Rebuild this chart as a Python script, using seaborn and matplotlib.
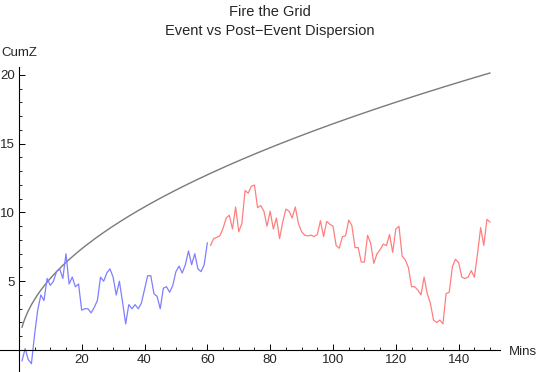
import matplotlib
matplotlib.use("Agg")
import matplotlib.pyplot as plt
import matplotlib.ticker as mticker
import numpy as np
import pandas as pd
import seaborn as sns

# minutes 1..60 (event) and 61..150 (post-event)
event_mins = list(range(1, 61))
event_cumz = [-0.8, 0.1, -0.7, -1.0, 1.1, 2.9, 4.0, 3.6, 5.2, 4.7,
              5.0, 5.7, 5.9, 5.2, 7.0, 4.8, 5.3, 4.6, 4.8, 2.9,
              3.0, 3.0, 2.7, 3.1, 3.6, 5.3, 5.0, 5.6, 5.9, 5.3,
              4.0, 5.0, 3.5, 1.9, 3.3, 3.0, 3.3, 3.0, 3.4, 4.4,
              5.4, 5.4, 4.1, 3.9, 3.0, 4.5, 4.6, 4.2, 4.7, 5.7,
              6.1, 5.6, 6.2, 7.2, 6.2, 7.0, 5.9, 5.7, 6.2, 7.8]

post_mins = list(range(61, 151))
post_cumz = [7.6, 8.1, 8.2, 8.3, 8.85, 9.6, 9.8, 8.8, 10.4, 8.6,
             9.2, 11.6, 11.4, 11.9, 12.0, 10.35, 10.5, 10.1, 9.0, 10.1,
             8.8, 9.6, 8.1, 9.3, 10.25, 10.1, 9.6, 10.4, 9.2, 8.6,
             8.35, 8.3, 8.35, 8.25, 8.4, 9.4, 8.25, 9.35, 9.15, 9.0,
             7.6, 7.4, 8.25, 8.3, 9.45, 9.05, 7.45, 7.45, 6.4, 6.4,
             8.35, 7.75, 6.3, 7.0, 7.3, 7.7, 7.6, 8.4, 7.1, 8.8,
             9.0, 6.84, 6.55, 6.0, 4.6, 4.6, 4.36, 4.0, 5.3, 4.1,
             3.4, 2.18, 2.0, 2.18, 1.9, 4.1, 4.2, 6.06, 6.6, 6.35,
             5.3, 5.2, 5.3, 5.77, 5.3, 7.0, 8.9, 7.6, 9.5, 9.3]

# 95% one-sided bound for cumulative Z: 1.645 * sqrt(n)
z_crit = 1.645
bound_mins = np.linspace(1, 150, 300)
bound_cumz = z_crit * np.sqrt(bound_mins)

event = pd.DataFrame({'Mins': event_mins, 'CumZ': event_cumz})
post = pd.DataFrame({'Mins': post_mins, 'CumZ': post_cumz})
bound = pd.DataFrame({'Mins': bound_mins, 'CumZ': bound_cumz})

sns.set_style('white')
plt.rcParams['font.family'] = ['Liberation Sans', 'DejaVu Sans']

fig = plt.figure(figsize=(5.4, 3.72), dpi=100)
ax = fig.add_axes([0.0, 0.0, 0.925, 0.8206])

sns.lineplot(x='Mins', y='CumZ', data=bound, color='#7a7a7a', linewidth=1.0, ax=ax)
sns.lineplot(x='Mins', y='CumZ', data=event, color='#7f7fff', linewidth=0.9, ax=ax)
sns.lineplot(x='Mins', y='CumZ', data=post, color='#ff7f7f', linewidth=0.9, ax=ax)

ax.set_xlim(-6, 153)
ax.set_ylim(-1.6, 20.6)
ax.set_xlabel('')
ax.set_ylabel('')

for s in ['top', 'right']:
    ax.spines[s].set_visible(False)
ax.spines['left'].set_position(('data', 0))
ax.spines['bottom'].set_position(('data', 0))
for s in ['left', 'bottom']:
    ax.spines[s].set_color('black')
    ax.spines[s].set_linewidth(0.8)

ax.xaxis.set_major_locator(mticker.FixedLocator([20, 40, 60, 80, 100, 120, 140]))
ax.xaxis.set_minor_locator(mticker.FixedLocator([v for v in range(5, 151, 5) if v % 20]))
ax.yaxis.set_major_locator(mticker.FixedLocator([5, 10, 15, 20]))
ax.yaxis.set_minor_locator(mticker.FixedLocator([v for v in range(1, 21) if v % 5]))
ax.tick_params(which='both', bottom=True, left=True, top=False, right=False)
ax.tick_params(which='major', direction='in', length=4, width=0.7, labelsize=9.5, pad=3, color='black')
ax.tick_params(which='minor', direction='in', length=2.2, width=0.6, color='black')
ax.tick_params(axis='y', which='both', pad=3)

fig.text(1 / 540, 1 - 53 / 372, 'CumZ', ha='left', va='center', fontsize=9.5)
fig.text(509 / 540, 1 - 352 / 372, 'Mins', ha='left', va='center', fontsize=9.5)
fig.text(0.5, 1 - 12 / 372, 'Fire the Grid', ha='center', va='center', fontsize=10.5)
fig.text(0.5, 1 - 31 / 372, 'Event vs Post\u2212Event Dispersion', ha='center', va='center', fontsize=10.5)

fig.savefig('out.png', dpi=100)
